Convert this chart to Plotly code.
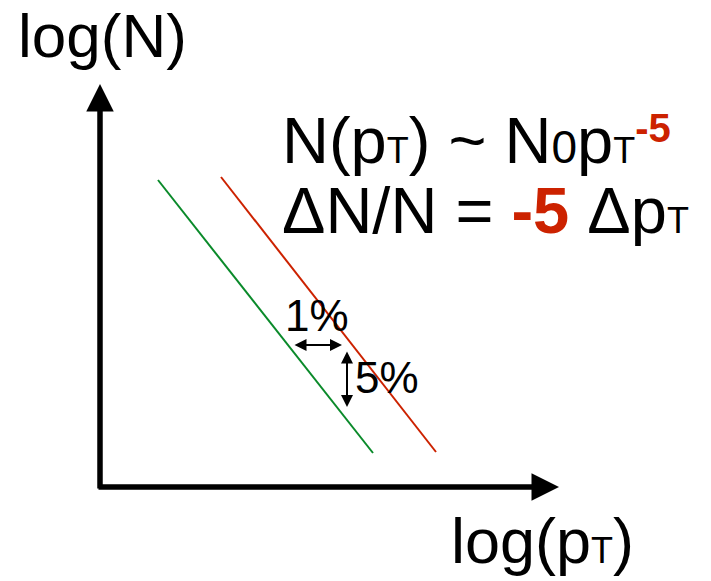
import plotly.graph_objects as go

# Schematic data (origin at axes corner, arbitrary log units in pixels-like scale)
green_x = [58, 273]
green_y = [307, 34]
red_x = [121, 336]
red_y = [310, 35]

# axis arrows: (tail, tip)
xaxis_arrow = {"x0": -3, "x1": 459, "y": 0}
yaxis_arrow = {"x": 0, "y0": -3, "y1": 403}
one_pct = {"x0": 193, "x1": 242, "y": 142}
five_pct = {"x": 247, "y0": 137, "y1": 80}

RED = "#cc2200"
GREEN = "#0a8a2a"
FONT = "Liberation Sans, Arial, sans-serif"

fig = go.Figure()
fig.add_trace(go.Scatter(x=green_x, y=green_y, mode="lines",
                         line=dict(color=GREEN, width=2), hoverinfo="skip"))
fig.add_trace(go.Scatter(x=red_x, y=red_y, mode="lines",
                         line=dict(color=RED, width=2), hoverinfo="skip"))

def arrow(x, y, ax, ay, width, size, side="end"):
    fig.add_annotation(x=x, y=y, ax=ax, ay=ay, xref="x", yref="y", axref="x", ayref="y",
                       showarrow=True, arrowhead=2, arrowwidth=width, arrowsize=size,
                       arrowcolor="black", arrowside=side, text="", standoff=0, startstandoff=0)

arrow(xaxis_arrow["x1"], xaxis_arrow["y"], xaxis_arrow["x0"], xaxis_arrow["y"], 5.5, 1.0)
arrow(yaxis_arrow["x"], yaxis_arrow["y1"], yaxis_arrow["x"], yaxis_arrow["y0"], 5.5, 1.0)
arrow(one_pct["x1"], one_pct["y"], one_pct["x0"], one_pct["y"], 2, 1.2, "end+start")
arrow(five_pct["x"], five_pct["y1"], five_pct["x"], five_pct["y0"], 2, 1.2, "end+start")

def text(x, y, s, size, xanchor="left"):
    fig.add_annotation(x=x, y=y, xref="x", yref="y", text=s, showarrow=False,
                       xanchor=xanchor, yanchor="middle",
                       font=dict(family=FONT, size=size, color="black"))

text(-84, 452, "log(N)", 62)
text(349, -54, "log(p<span style='font-size:36px'>T</span>)", 63)
text(183, 172, "1%", 44)
text(253, 110, "5%", 44)
text(180, 347, "N(p<span style='font-size:36px'>T</span>) ~ N<span style='font-size:46px'>0</span>p<span style='font-size:36px'>T</span>"
     "<span style='font-size:50px'><sup><span style='color:%s;font-size:40px'><b>-5</b></span></sup></span>" % RED, 65)
text(180, 277, "ΔN/N = <span style='color:%s'><b>-5</b></span> Δp<span style='font-size:36px'>T</span>" % RED, 65)

fig.update_layout(
    width=711, height=581,
    margin=dict(l=0, r=0, t=0, b=0),
    paper_bgcolor="white", plot_bgcolor="white",
    showlegend=False,
    xaxis=dict(range=[-100, 611], visible=False, fixedrange=True),
    yaxis=dict(range=[-94, 487], visible=False, fixedrange=True),
)
fig.write_html("out.html", config={"displayModeBar": False})
